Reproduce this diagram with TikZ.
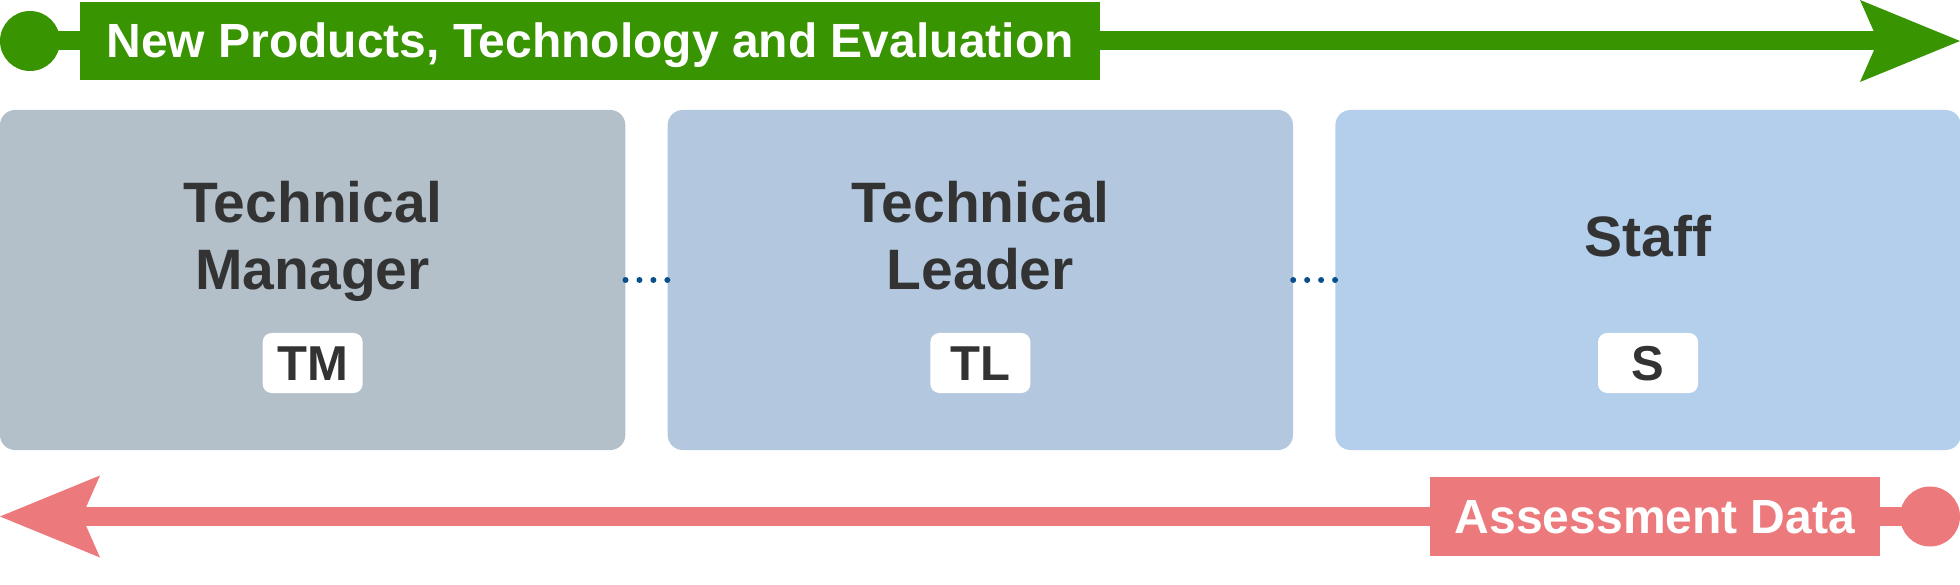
\documentclass[tikz,border=0pt]{standalone}
\usepackage{fontspec}
\setmainfont{Liberation Sans}
\usetikzlibrary{arrows.meta,positioning}
\definecolor{bannergreen}{RGB}{56,148,0}
\definecolor{assessred}{RGB}{236,122,124}
\definecolor{mgrgray}{RGB}{179,191,201}
\definecolor{ldrblue}{RGB}{179,200,222}
\definecolor{stfblue}{RGB}{179,207,235}
\definecolor{txtgray}{RGB}{51,51,51}
\definecolor{dotblue}{RGB}{11,79,138}
\begin{document}
\begin{tikzpicture}[x=1pt,y=-1pt,
    rolebox/.style={rectangle, rounded corners=15pt, minimum width=625.3pt, minimum height=340pt, inner sep=0pt},
    roletitle/.style={align=center, text=txtgray, font=\bfseries\fontsize{57}{67}\selectfont},
    roletag/.style={fill=white, rounded corners=9pt, minimum width=100pt, minimum height=60pt, inner sep=0pt, text height=35pt, text depth=0pt, text=txtgray, font=\bfseries\fontsize{49}{49}\selectfont},
    banner/.style={inner sep=0pt, minimum height=78pt, text height=34pt, text depth=0pt, text=white, font=\bfseries\fontsize{48}{48}\selectfont},
    enddot/.style={circle, inner sep=0pt, minimum size=60pt},
    flow/.style={line width=19pt, -{Stealth[length=100pt, width=82pt, inset=18pt, line width=0pt]}},
    linkdots/.style={draw=dotblue, line width=6pt, line cap=round, dash pattern=on 0pt off 13.95pt}]
    \useasboundingbox (0,0) rectangle (1960,585);
    \node[rolebox, fill=mgrgray] (tm) at (312.65,280) {};
    \node[rolebox, fill=ldrblue, right=42pt of tm] (tl) {};
    \node[rolebox, fill=stfblue, right=42pt of tl] (st) {};
    \node[roletitle, anchor=base] (tmtitle) at ([yshift=-10pt]tm.center) {Technical\\Manager};
    \node[roletitle, anchor=base] (tltitle) at ([yshift=-10pt]tl.center) {Technical\\Leader};
    \node[roletitle, anchor=base] (sttitle) at ([yshift=23pt]st.center) {Staff};
    \node[roletag] (tmtag) at ([yshift=-83pt]tm.center) {TM};
    \node[roletag] (tltag) at ([yshift=-83pt]tl.center) {TL};
    \node[roletag] (sttag) at ([yshift=-83pt]st.center) {S};
    \draw[linkdots] (tm.east) -- (tl.west);
    \draw[linkdots] (tl.east) -- (st.west);
    \node[enddot, fill=bannergreen] (newdot) at (30,41) {};
    \coordinate (newtip) at (1960,41);
    \draw[flow, bannergreen] (newdot.center) -- (newtip);
    \node[banner, fill=bannergreen, minimum width=1020pt] (newlbl) at (590,41) {New Products, Technology and Evaluation};
    \node[enddot, fill=assessred] (asdot) at (1930,516.5) {};
    \coordinate (astip) at (0,516.5);
    \draw[flow, assessred] (asdot.center) -- (astip);
    \node[banner, fill=assessred, minimum width=450pt, minimum height=79pt] (aslbl) at (1655,516.5) {Assessment Data};
\end{tikzpicture}
\end{document}
